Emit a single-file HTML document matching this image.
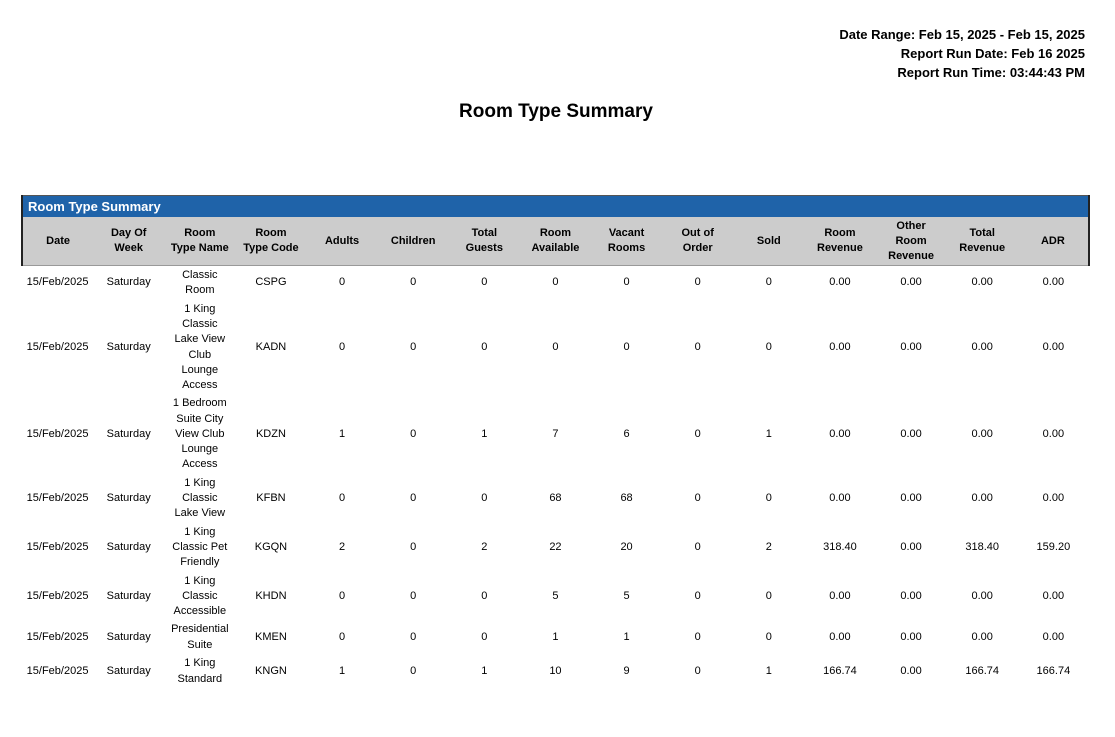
<!DOCTYPE html>
<html><head><style>
body{margin:0;background:#fff;font-family:"Liberation Sans",Arial,sans-serif;color:#000;}
.wrap{position:relative;width:1115px;height:737px;overflow:hidden;}
.tr{position:absolute;right:30px;top:25px;text-align:right;font-weight:bold;font-size:13px;line-height:19px;}
.title{position:absolute;left:0;width:1112px;top:101px;text-align:center;font-weight:bold;font-size:19px;}
table{position:absolute;left:21px;top:195px;width:1069px;border-collapse:collapse;table-layout:fixed;font-size:11px;}
.bar td{background:#1f63a9;color:#fff;font-weight:bold;font-size:13px;height:21px;padding:0 0 0 5px;text-align:left;border-left:2px solid #222;border-top:1px solid #555;}
.hd td{background:#ccc;font-weight:bold;height:48px;text-align:center;line-height:15px;padding:0;border-bottom:1px solid #999;}
.hd td:first-child{border-left:2px solid #222;}
.hd td:last-child{border-right:2px solid #222;}
.rw td{text-align:center;vertical-align:middle;line-height:15.2px;padding:0;}
</style></head><body><div class="wrap">
<div class="tr">Date Range: Feb 15, 2025 - Feb 15, 2025<br>Report Run Date: Feb 16 2025<br>Report Run Time: 03:44:43 PM</div>
<div class="title">Room Type Summary</div>
<table>
<tr class="bar"><td colspan="15" style="border-right:2px solid #222">Room Type Summary</td></tr>
<tr class="hd"><td>Date</td><td>Day Of<br>Week</td><td>Room<br>Type Name</td><td>Room<br>Type Code</td><td>Adults</td><td>Children</td><td>Total<br>Guests</td><td>Room<br>Available</td><td>Vacant<br>Rooms</td><td>Out of<br>Order</td><td>Sold</td><td>Room<br>Revenue</td><td>Other<br>Room<br>Revenue</td><td>Total<br>Revenue</td><td>ADR</td></tr>
<tr class="rw" style="height:34px"><td>15/Feb/2025</td><td>Saturday</td><td>Classic<br>Room</td><td>CSPG</td><td>0</td><td>0</td><td>0</td><td>0</td><td>0</td><td>0</td><td>0</td><td>0.00</td><td>0.00</td><td>0.00</td><td>0.00</td></tr>
<tr class="rw" style="height:96px"><td>15/Feb/2025</td><td>Saturday</td><td>1 King<br>Classic<br>Lake View<br>Club<br>Lounge<br>Access</td><td>KADN</td><td>0</td><td>0</td><td>0</td><td>0</td><td>0</td><td>0</td><td>0</td><td>0.00</td><td>0.00</td><td>0.00</td><td>0.00</td></tr>
<tr class="rw" style="height:78px"><td>15/Feb/2025</td><td>Saturday</td><td>1 Bedroom<br>Suite City<br>View Club<br>Lounge<br>Access</td><td>KDZN</td><td>1</td><td>0</td><td>1</td><td>7</td><td>6</td><td>0</td><td>1</td><td>0.00</td><td>0.00</td><td>0.00</td><td>0.00</td></tr>
<tr class="rw" style="height:50px"><td>15/Feb/2025</td><td>Saturday</td><td>1 King<br>Classic<br>Lake View</td><td>KFBN</td><td>0</td><td>0</td><td>0</td><td>68</td><td>68</td><td>0</td><td>0</td><td>0.00</td><td>0.00</td><td>0.00</td><td>0.00</td></tr>
<tr class="rw" style="height:48px"><td>15/Feb/2025</td><td>Saturday</td><td>1 King<br>Classic Pet<br>Friendly</td><td>KGQN</td><td>2</td><td>0</td><td>2</td><td>22</td><td>20</td><td>0</td><td>2</td><td>318.40</td><td>0.00</td><td>318.40</td><td>159.20</td></tr>
<tr class="rw" style="height:50px"><td>15/Feb/2025</td><td>Saturday</td><td>1 King<br>Classic<br>Accessible</td><td>KHDN</td><td>0</td><td>0</td><td>0</td><td>5</td><td>5</td><td>0</td><td>0</td><td>0.00</td><td>0.00</td><td>0.00</td><td>0.00</td></tr>
<tr class="rw" style="height:32px"><td>15/Feb/2025</td><td>Saturday</td><td>Presidential<br>Suite</td><td>KMEN</td><td>0</td><td>0</td><td>0</td><td>1</td><td>1</td><td>0</td><td>0</td><td>0.00</td><td>0.00</td><td>0.00</td><td>0.00</td></tr>
<tr class="rw" style="height:36px"><td>15/Feb/2025</td><td>Saturday</td><td>1 King<br>Standard</td><td>KNGN</td><td>1</td><td>0</td><td>1</td><td>10</td><td>9</td><td>0</td><td>1</td><td>166.74</td><td>0.00</td><td>166.74</td><td>166.74</td></tr>
</table>
</div></body></html>
